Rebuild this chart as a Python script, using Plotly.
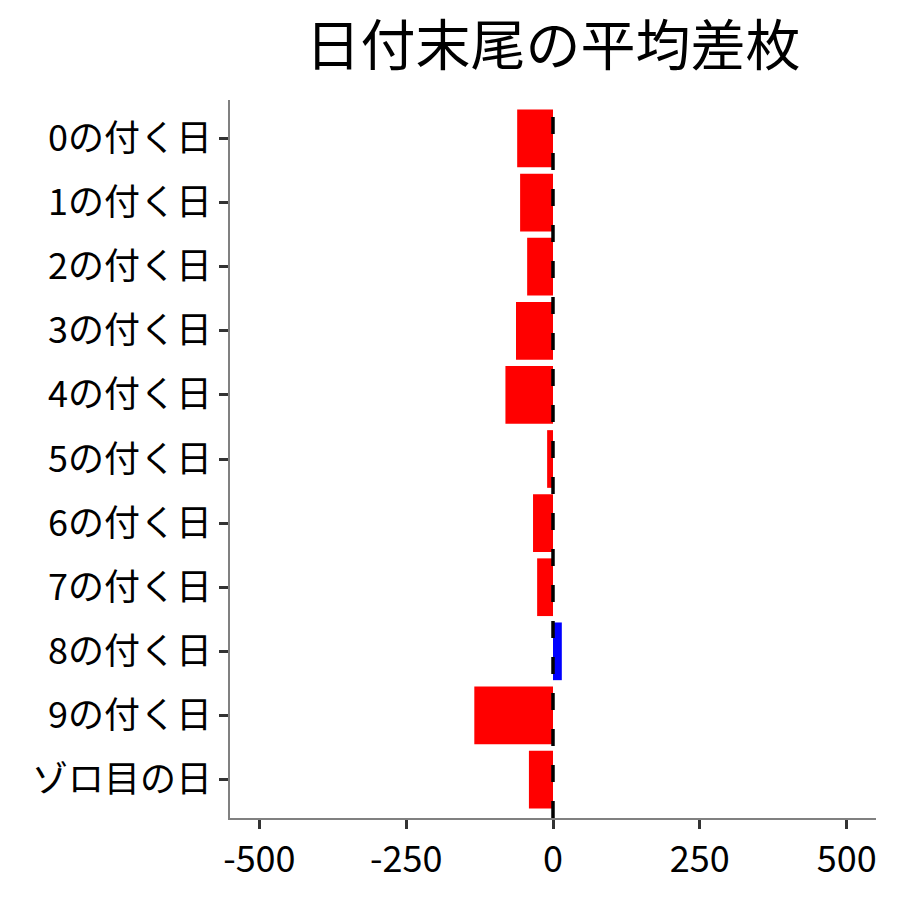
import plotly.graph_objects as go

# 日付末尾ごとの平均差枚
categories = ['0の付く日', '1の付く日', '2の付く日', '3の付く日', '4の付く日',
              '5の付く日', '6の付く日', '7の付く日', '8の付く日', '9の付く日', 'ゾロ目の日']
avg_diff = [-61, -56, -44, -63, -81, -10, -34, -27, 15, -134, -41]
tick_vals = [-500, -250, 0, 250, 500]
tick_text = ['-500', '-250', '0', '250', '500']

bar_colors = ['blue' if v > 0 else 'red' for v in avg_diff]
font_family = 'Noto Sans CJK JP'

fig = go.Figure()
fig.add_trace(go.Bar(y=categories, x=avg_diff, orientation='h',
                     marker_color=bar_colors, marker_line_width=0,
                     width=0.9, showlegend=False))

# 0 の位置に破線
fig.add_shape(type='line', x0=0, x1=0, y0=0, y1=1, yref='paper',
              line=dict(color='black', width=3.5, dash='17px,19px'))

fig.update_layout(
    width=900, height=900,
    margin=dict(l=230, r=24, t=100, b=82),
    plot_bgcolor='white', paper_bgcolor='white',
    font=dict(family=font_family, color='black', size=36),
    title=dict(text='日付末尾の平均差枚', x=553 / 900, xanchor='center',
               yref='container', y=1 - 46 / 900, yanchor='middle',
               font=dict(size=55, color='black')),
    xaxis=dict(range=[-550, 550], tickmode='array', tickvals=tick_vals,
               ticktext=tick_text,
               showgrid=False, zeroline=False, showline=True,
               linecolor='#808080', linewidth=1.5,
               ticks='outside', ticklen=9, tickwidth=2.5, tickcolor='#333333',
               tickfont=dict(size=36, color='black')),
    yaxis=dict(categoryorder='array', categoryarray=categories,
               autorange=False, range=[10.6, -0.6],
               showgrid=False, zeroline=False, showline=True,
               linecolor='#808080', linewidth=1.5,
               ticks='outside', ticklen=9, tickwidth=2.5, tickcolor='#333333',
               tickfont=dict(size=36, color='black')),
)

fig.write_html("out.html", config={'displayModeBar': False},
               post_script="document.body.style.margin='0';")
